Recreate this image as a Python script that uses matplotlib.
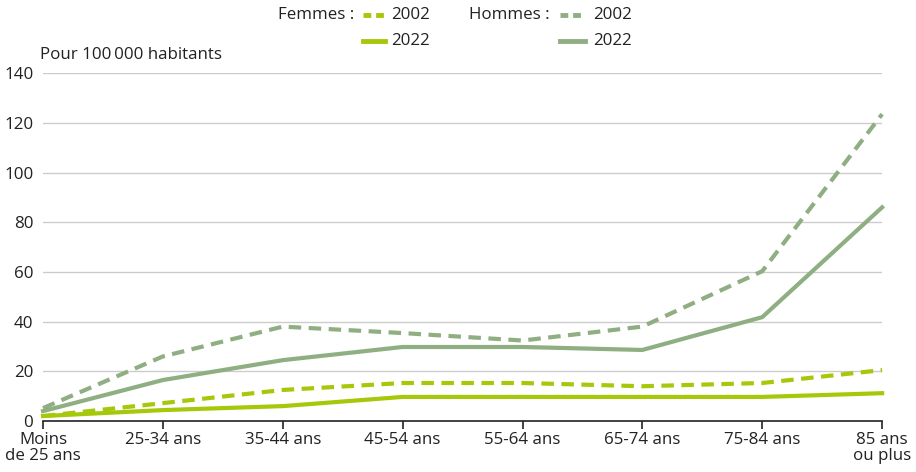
import matplotlib.pyplot as plt
from matplotlib.lines import Line2D

plt.rcParams["font.family"] = ["Open Sans", "DejaVu Sans"]

# Data
ages = ["Moins\nde 25 ans", "25-34 ans", "35-44 ans", "45-54 ans",
        "55-64 ans", "65-74 ans", "75-84 ans", "85 ans\nou plus"]
femmes_2002 = [2.0, 7.2, 12.5, 15.3, 15.3, 14.0, 15.3, 20.5]
femmes_2022 = [2.0, 4.4, 6.0, 9.7, 9.7, 9.7, 9.7, 11.2]
hommes_2002 = [5.2, 26.0, 38.0, 35.4, 32.4, 38.0, 60.3, 123.5]
hommes_2022 = [4.0, 16.5, 24.5, 29.8, 29.8, 28.6, 41.8, 86.0]

c_f = "#a6c80a"
c_h = "#8fae82"
txt = "#222222"
fs = 12.2
dash = (3, 1.8)

fig = plt.figure(figsize=(9.16, 4.72), dpi=100)
ax = fig.add_axes([0.047, 0.108, 0.916, 0.737])

x = list(range(len(ages)))
ax.plot(x, hommes_2002, color=c_h, lw=3, dashes=dash, clip_on=False, zorder=3)
ax.plot(x, hommes_2022, color=c_h, lw=3, clip_on=False, zorder=3)
ax.plot(x, femmes_2002, color=c_f, lw=3, dashes=dash, clip_on=False, zorder=4)
ax.plot(x, femmes_2022, color=c_f, lw=3, clip_on=False, zorder=4)

ax.set_xlim(0, 7)
ax.set_ylim(0, 140)
ax.set_yticks(range(0, 141, 20))
ax.set_xticks(x)
ax.set_xticklabels(ages)
ax.grid(axis="y", color="#cccccc", lw=1)
ax.set_axisbelow(True)
for s in ["top", "right", "left"]:
    ax.spines[s].set_visible(False)
ax.spines["bottom"].set_color(txt)
ax.spines["bottom"].set_linewidth(1.2)
ax.tick_params(axis="y", length=0, labelsize=fs, pad=7, colors=txt)
ax.tick_params(axis="x", length=6, width=1.2, labelsize=fs, colors=txt, pad=2)
for lab in ax.get_xticklabels():
    lab.set_linespacing(0.95)

fig.text(0.044, 0.875, "Pour 100\u2009000 habitants", fontsize=fs, color=txt)

# legend
y1, y2 = 0.968, 0.914
fig.text(0.387, y1, "Femmes :", fontsize=fs, ha="right", va="center", color=txt)
fig.add_artist(Line2D([0.396, 0.420], [y1, y1], color=c_f, lw=3.5, dashes=(1.6, 1),
                      transform=fig.transFigure))
fig.add_artist(Line2D([0.396, 0.420], [y2, y2], color=c_f, lw=3.5,
                      transform=fig.transFigure))
fig.text(0.427, y1, "2002", fontsize=fs, va="center", color=txt)
fig.text(0.427, y2, "2022", fontsize=fs, va="center", color=txt)

fig.text(0.600, y1, "Hommes :", fontsize=fs, ha="right", va="center", color=txt)
fig.add_artist(Line2D([0.611, 0.639], [y1, y1], color=c_h, lw=3.5, dashes=(1.6, 1),
                      transform=fig.transFigure))
fig.add_artist(Line2D([0.611, 0.639], [y2, y2], color=c_h, lw=3.5,
                      transform=fig.transFigure))
fig.text(0.647, y1, "2002", fontsize=fs, va="center", color=txt)
fig.text(0.647, y2, "2022", fontsize=fs, va="center", color=txt)

fig.savefig("out.png", dpi=100)
